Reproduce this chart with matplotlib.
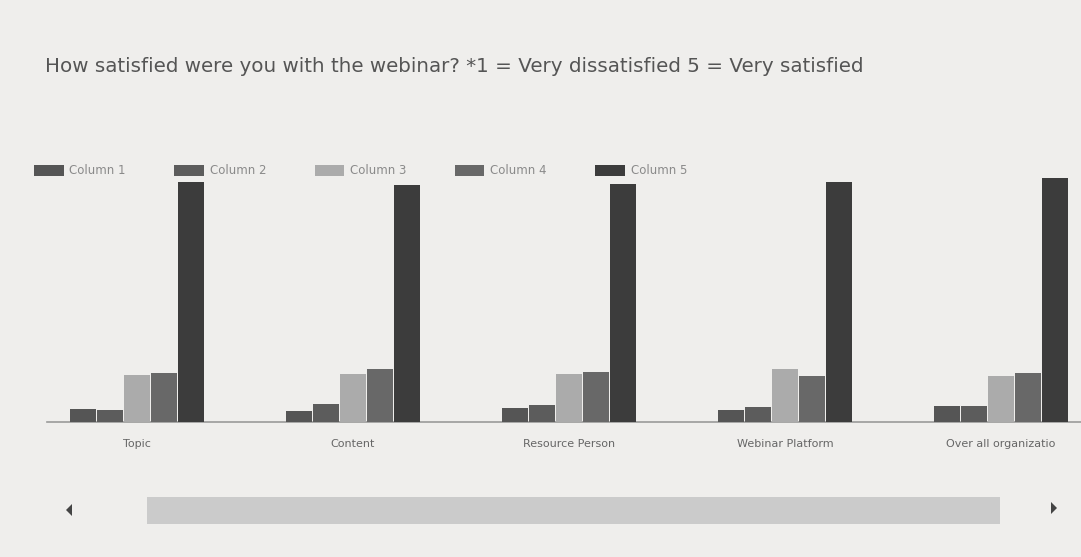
import matplotlib
matplotlib.use("Agg")
import matplotlib.pyplot as plt
import numpy as np
from matplotlib.patches import Rectangle, Polygon

categories = ["Topic", "Content", "Resource Person", "Webinar Platform", "Over all organizatio"]
series_names = ["Column 1", "Column 2", "Column 3", "Column 4", "Column 5"]
col1 = [2.7, 2.3, 2.9, 2.5, 3.3]
col2 = [2.5, 3.7, 3.5, 3.1, 3.3]
col3 = [9.7, 9.9, 9.9, 11.0, 9.5]
col4 = [10.3, 11.1, 10.5, 9.5, 10.3]
col5 = [50.0, 49.4, 49.6, 50.0, 50.8]
series = [col1, col2, col3, col4, col5]
colors = ["#555555", "#5c5c5c", "#ababab", "#686868", "#3c3c3c"]
title = "How satisfied were you with the webinar? *1 = Very dissatisfied 5 = Very satisfied"

W, H = 1081, 557
fig = plt.figure(figsize=(W / 100, H / 100), dpi=100)
fig.patch.set_facecolor("#efeeec")

ax_left = 47 / W
ax_bottom = 1 - 422 / H
ax_top = 1 - 170 / H
ax = fig.add_axes([ax_left, ax_bottom, 1 - ax_left, ax_top - ax_bottom])
ax.set_facecolor("none")

x = np.arange(len(categories))
bw = 0.118
step = 0.125
for i, (vals, c, name) in enumerate(zip(series, colors, series_names)):
    ax.bar(x + (i - 2) * step, vals, width=bw, color=c, label=name, zorder=3)

px_per_unit = 216
ax.set_xlim(-(137 - 47) / px_per_unit, 4 + (1081 - 1001) / px_per_unit)
ax.set_ylim(0, 52.5)
ax.set_yticks([])
ax.set_xticks(x)
ax.set_xticklabels(categories, fontsize=8, color="#666666")
ax.tick_params(axis="x", length=0, pad=12)
for s in ["top", "right", "left"]:
    ax.spines[s].set_visible(False)
ax.spines["bottom"].set_color("#9a9a9a")
ax.spines["bottom"].set_linewidth(1.2)

leg = fig.legend(loc="center left", bbox_to_anchor=(34 / W, 1 - 171 / H), ncol=5, frameon=False,
                 fontsize=8.5, handlelength=2.5, handleheight=1.0, columnspacing=4.1,
                 handletextpad=0.5, borderaxespad=0, borderpad=0)
for t in leg.get_texts():
    t.set_color("#8a8a8a")

fig.text(45 / W, 1 - 66 / H, title, fontsize=14.3, color="#555555", va="center", ha="left")

# scrollbar
fig.patches.append(Rectangle((147 / W, 1 - 524 / H), (1000 - 147) / W, 27 / H,
                             transform=fig.transFigure, facecolor="#cbcbcb", edgecolor="none"))
fig.patches.append(Polygon([(66 / W, 1 - 510 / H), (72 / W, 1 - 504 / H), (72 / W, 1 - 516 / H)],
                           closed=True, transform=fig.transFigure, facecolor="#444444"))
fig.patches.append(Polygon([(1057 / W, 1 - 508 / H), (1051 / W, 1 - 502 / H), (1051 / W, 1 - 514 / H)],
                           closed=True, transform=fig.transFigure, facecolor="#444444"))

fig.savefig("out.png", dpi=100, facecolor=fig.get_facecolor())
